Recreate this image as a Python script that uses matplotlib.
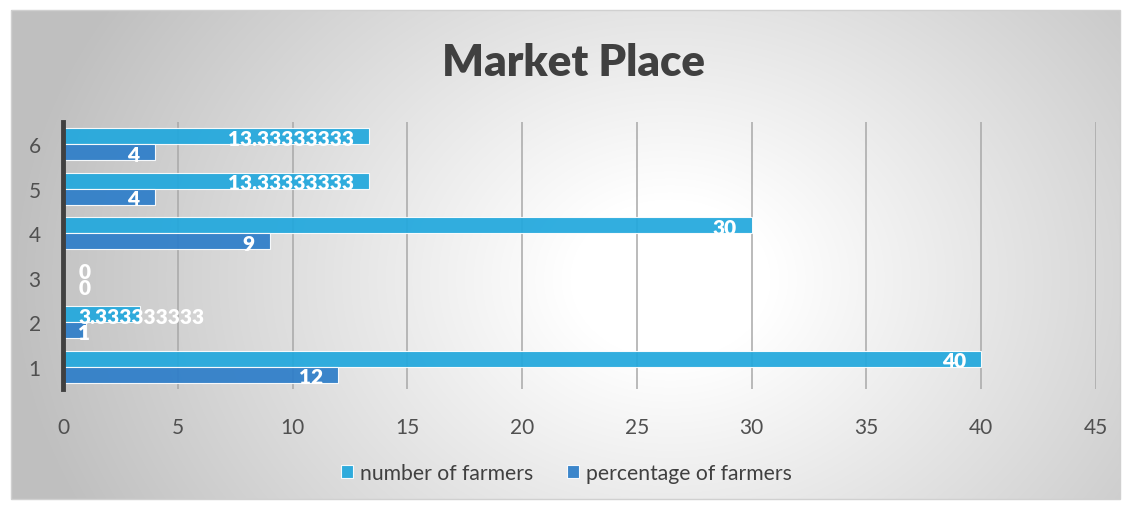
import numpy as np
import matplotlib
matplotlib.use("Agg")
import matplotlib.pyplot as plt
from matplotlib.patches import Rectangle

plt.rcParams['font.family'] = ['Lato', 'DejaVu Sans']

# data
categories = ['1', '2', '3', '4', '5', '6']
number_of_farmers = [40, 3.333333333, 0, 30, 13.33333333, 13.33333333]
percentage_of_farmers = [12, 1, 0, 9, 4, 4]
number_labels = ['40', '3.333333333', '0', '30', '13.33333333', '13.33333333']
percent_labels = ['12', '1', '0', '9', '4', '4']
x_ticks = [0, 5, 10, 15, 20, 25, 30, 35, 40, 45]

light_blue = '#22a8dd'
dark_blue = '#2e7ec9'

W, H = 1127, 506
fig = plt.figure(figsize=(W / 100, H / 100), dpi=100)

# radial gradient background inside the chart border
bg = fig.add_axes([0, 0, 1, 1], zorder=-10)
yy, xx = np.mgrid[0:H, 0:W]
r = np.hypot((xx - 670) * 1.0, (yy - 280) * 1.25)
v = 1 - 0.25 * np.clip((r - 100) / 560, 0, 1)
img = np.dstack([v, v, v])
img[:11, :] = 1
img[-6:, :] = 1
img[:, :11] = 1
img[:, -7:] = 1
bg.imshow(img, extent=[0, W, H, 0], aspect='auto', interpolation='bilinear')
bg.add_patch(Rectangle((11, 11), W - 18, H - 17, fill=False, ec='#d0d0d0', lw=1))
bg.set_xlim(0, W)
bg.set_ylim(H, 0)
bg.axis('off')

ax = fig.add_axes([63 / W, 116 / H, 1033 / W, 267 / H])
ax.patch.set_alpha(0)

y = np.arange(len(categories)) + 1
h = 0.36
b1 = ax.barh(y + h / 2, number_of_farmers, height=h, color=light_blue,
             edgecolor=(1, 1, 1, 0.5), lw=0.8, alpha=0.93, zorder=3,
             label='number of farmers')
b2 = ax.barh(y - h / 2, percentage_of_farmers, height=h, color=dark_blue,
             edgecolor=(1, 1, 1, 0.5), lw=0.8, alpha=0.93, zorder=3,
             label='percentage of farmers')

ax.set_xlim(0, 45)
ax.set_ylim(0.5, 6.5)
ax.set_xticks(x_ticks)
ax.set_yticks(y)
ax.set_yticklabels(categories)
ax.tick_params(length=0, labelsize=15, colors='#505050', pad=20)
ax.tick_params(axis='y', pad=16)
ax.grid(axis='x', color='#a8a8a8', lw=1.1, zorder=1)
ax.set_axisbelow(True)
for s in ['top', 'right', 'bottom']:
    ax.spines[s].set_visible(False)
ax.spines['left'].set_color('#404040')
ax.spines['left'].set_linewidth(3.5)
ax.spines['left'].set_zorder(5)

# data labels: inside end, pushed to the base when they do not fit
texts = []
for vals, labs, off in [(number_of_farmers, number_labels, h / 2),
                        (percentage_of_farmers, percent_labels, -h / 2)]:
    for yi, val, lab in zip(y, vals, labs):
        t = ax.annotate(lab, (val, yi + off), xytext=(-11, -1.5),
                        textcoords='offset points', ha='right', va='center',
                        color='white', fontsize=15, fontweight='heavy', zorder=6)
        texts.append((t, yi + off))
fig.canvas.draw()
x0 = ax.transData.transform((0, 0))[0]
for t, yp in texts:
    bb = t.get_window_extent()
    if bb.x0 < x0 + 14:
        t.set_position((11, -1.5))
        t.xy = (0, yp)
        t.set_ha('left')

fig.text(573 / W, 1 - 63 / H, 'Market Place', ha='center', va='center',
         fontsize=31.5, fontweight='heavy', color='#404040')

fig.legend(handles=[b1, b2], loc='center', bbox_to_anchor=(566 / W, 1 - 474 / H),
           ncol=2, frameon=False, fontsize=15.2, labelcolor='#404040',
           handlelength=0.6, handleheight=0.6, handletextpad=0.3,
           columnspacing=1.6)

fig.savefig('out.png', dpi=100)
